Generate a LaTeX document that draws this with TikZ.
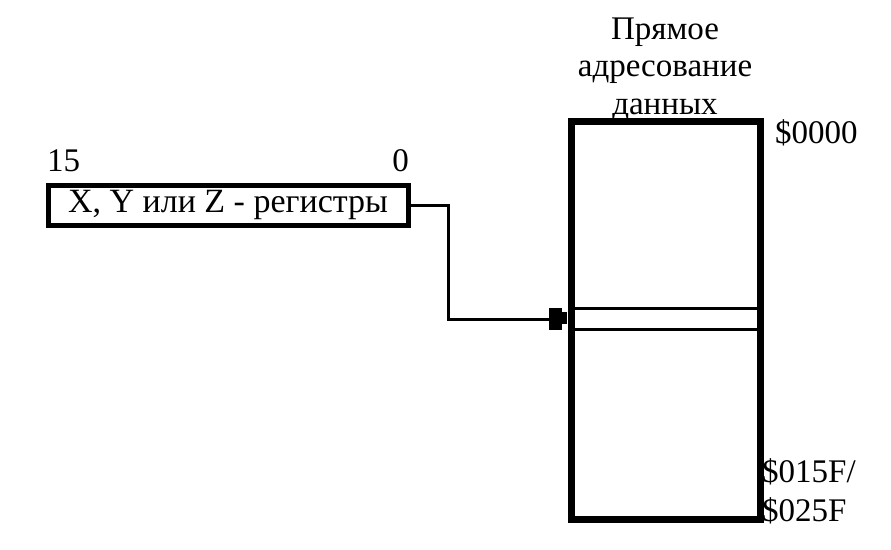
\documentclass[tikz,border=0pt]{standalone}
\usepackage{fontspec}
\setmainfont{Liberation Serif}
\usetikzlibrary{arrows.meta}
\begin{document}
\begin{tikzpicture}[x=1pt,y=-1pt,
  lbl/.style={inner sep=0pt,font=\fontsize{33}{37.5}\selectfont},
  regbox/.style={draw,line width=5pt,minimum width=360pt,minimum height=40pt,inner sep=0pt,font=\fontsize{34}{39}\selectfont},
  membox/.style={draw,line width=7pt,minimum width=189pt,minimum height=398pt,inner sep=0pt},
  slotbox/.style={minimum width=189pt,minimum height=20pt,inner sep=0pt},
  conn/.style={line width=3pt,-{Rectangle[length=13pt,width=22pt]},shorten >=9pt}]
\useasboundingbox (0,0) rectangle (891,549);
% register
\node[regbox] (reg) at (228,205) {\raisebox{-2pt}{X, Y или Z - регистры}};
\node[lbl,anchor=base west] (b15) at (47,171) {15};
\node[lbl,anchor=base east] (b0) at (409,171) {0};
% title (drawn before memory so the box top covers the last line)
\node[lbl,align=center,anchor=base] (title) at (665,114) {Прямое\\адресование\\данных};
% memory
\node[membox] (mem) at (665.5,320) {};
\node[slotbox] (slot) at (665.5,319) {};
\draw[line width=3pt] (slot.north west) -- (slot.north east);
\draw[line width=3pt] (slot.south west) -- (slot.south east);
\node[lbl,anchor=base west] (a0) at (775,143) {\$0000};
\node[lbl,anchor=base west] (a1) at (762,482) {\$015F/};
\node[lbl,anchor=base west] (a2) at (762,521) {\$025F};
% connector
\coordinate (bend) at (448,0);
\draw[conn] (reg.east) -- (bend |- reg.east) |- (slot.west);
\fill (557,312) rectangle (567,324);
\end{tikzpicture}
\end{document}
